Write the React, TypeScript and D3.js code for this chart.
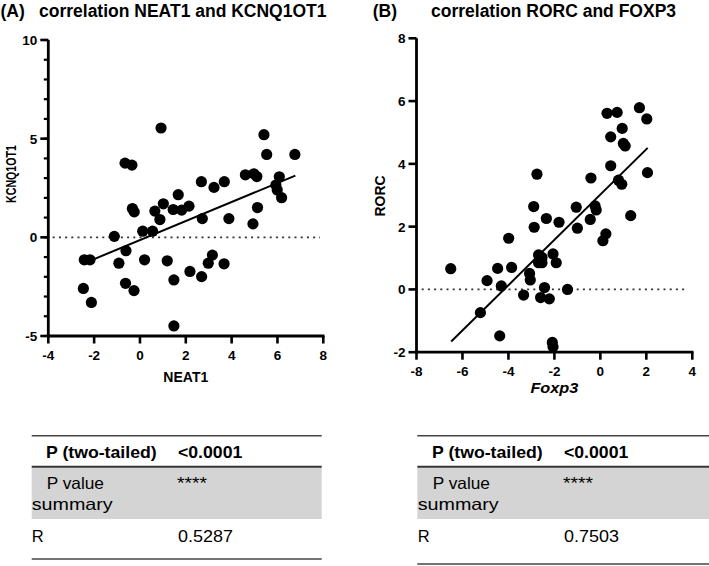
import React from 'react';
import * as d3 from 'd3';

// Panel A: NEAT1 (x) vs KCNQ1OT1 (y)
const neat1 = [0.92, -0.65, -0.35, 5.41, 5.53, 6.76, 2.68, 3.23, 3.68, 4.6, 4.97, 5.1, 6.08, 5.93, 5.99, 6.18, 1.67, -0.33, -0.25, 0.65, 1.02, 0.87, 1.45, 1.82, 2.14, 2.72, 3.88, 5.13, 4.93, -1.12, 0.12, 0.55, -2.43, -2.18, -0.61, -0.92, 0.2, 1.19, 3.16, 2.98, 3.67, 2.18, 2.69, -0.63, -0.26, 1.48, -2.47, -2.12, 1.48];
const kcnq1ot1 = [5.54, 3.76, 3.66, 5.2, 4.2, 4.2, 2.82, 2.53, 2.82, 3.17, 3.22, 3.08, 3.07, 2.65, 2.4, 2.01, 2.16, 1.46, 1.29, 1.33, 1.7, 0.9, 1.41, 1.38, 1.58, 0.95, 0.95, 1.51, 0.68, 0.05, 0.31, 0.31, -1.14, -1.14, -0.68, -1.31, -1.14, -1.19, -0.9, -1.31, -1.34, -1.73, -1.99, -2.33, -2.7, -2.16, -2.59, -3.3, -4.49];
const fitAx = [-2.45, 6.78];
const fitAy = [-1.32, 3.13];

// Panel B: Foxp3 (x) vs RORC (y)
const foxp3 = [0.29, 0.73, 1.7, 2.02, 0.95, 0.45, 1.0, 1.08, 0.45, 2.05, -2.76, -0.41, 0.79, 0.93, -2.9, -1.05, -0.23, -0.18, -0.44, 1.32, -2.35, -1.8, -2.88, -1.0, 0.24, 0.11, -3.99, -2.69, -2.54, -2.69, -2.54, -2.06, -1.92, -6.51, -4.47, -3.86, -3.08, -3.05, -4.93, -4.31, -2.43, -1.43, -3.34, -2.6, -2.22, -5.22, -4.38, -2.09, -2.06];
const rorc = [5.61, 5.64, 5.79, 5.43, 5.13, 4.86, 4.65, 4.57, 3.94, 3.72, 3.67, 3.55, 3.48, 3.35, 2.64, 2.62, 2.66, 2.53, 2.23, 2.35, 2.26, 2.14, 1.98, 1.95, 1.77, 1.55, 1.63, 1.1, 1.02, 0.85, 0.85, 1.13, 0.85, 0.66, 0.67, 0.7, 0.51, 0.3, 0.28, 0.11, 0.06, 0.0, -0.18, -0.26, -0.3, -0.74, -1.48, -1.69, -1.83];
const fitBx = [-6.49, 2.06];
const fitBy = [-1.66, 4.51];

const xTicksA = [-4, -2, 0, 2, 4, 6, 8];
const yTicksA = [-5, 0, 5, 10];
const xTicksB = [-8, -6, -4, -2, 0, 2, 4];
const yTicksB = [-2, 0, 2, 4, 6, 8];

const tableLabels = ['P (two-tailed)', 'P value', 'summary', 'R'];
const tableValuesA = ['<0.0001', '****', '0.5287'];
const tableValuesB = ['<0.0001', '****', '0.7503'];

const FONT = "'Liberation Sans', Arial, Helvetica, sans-serif";

type PanelProps = {
  xs: number[]; ys: number[]; fx: number[]; fy: number[];
  xDomain: [number, number]; yDomain: [number, number];
  xRange: [number, number]; yRange: [number, number];
  xTicks: number[]; yTicks: number[]; yMinor: number[];
  xLabel: string; xLabelItalic?: boolean; xLabelY: number; xLabelLen?: number;
  yLabel: string; yLabelX: number; yLabelY: number; yLabelLen?: number; yLabelSize: number;
  zeroRange: [number, number];
};

function Panel(p: PanelProps) {
  const x = d3.scaleLinear().domain(p.xDomain).range(p.xRange);
  const y = d3.scaleLinear().domain(p.yDomain).range(p.yRange);
  const x0 = p.xRange[0];
  const yb = p.yRange[0];
  const line = d3.line<number>().x((d) => x(p.fx[d])).y((d) => y(p.fy[d]));
  return (
    <g fontFamily={FONT}>
      <line x1={p.zeroRange[0]} x2={p.zeroRange[1]} y1={y(0)} y2={y(0)} stroke="#333" strokeWidth={1.8} strokeDasharray="2 4.2" />
      {p.xs.map((v, i) => (
        <circle key={i} cx={x(v)} cy={y(p.ys[i])} r={5.6} fill="#000" />
      ))}
      <path d={line([0, 1]) || ''} stroke="#000" strokeWidth={2} fill="none" />
      <line x1={x0} x2={x0} y1={p.yRange[1]} y2={yb + 1.3} stroke="#000" strokeWidth={2.8} />
      <line x1={x0 - 1.3} x2={p.xRange[1] + 1.2} y1={yb} y2={yb} stroke="#000" strokeWidth={2.8} />
      {p.xTicks.map((t) => (
        <g key={'xt' + t}>
          <line x1={x(t)} x2={x(t)} y1={yb} y2={yb + 7.5} stroke="#000" strokeWidth={2.6} />
          <text x={x(t)} y={yb + 24} textAnchor="middle" fontSize={13.5} fontWeight="bold">{String(t)}</text>
        </g>
      ))}
      {p.yMinor.map((t) => (
        <line key={'ym' + t} x1={x0 - 4.5} x2={x0} y1={y(t)} y2={y(t)} stroke="#000" strokeWidth={2.2} />
      ))}
      {p.yTicks.map((t) => (
        <g key={'yt' + t}>
          <line x1={x0 - 8} x2={x0} y1={y(t)} y2={y(t)} stroke="#000" strokeWidth={2.6} />
          <text x={x0 - 11} y={y(t)} dy="0.36em" textAnchor="end" fontSize={13.5} fontWeight="bold">{String(t)}</text>
        </g>
      ))}
      <text x={(p.xRange[0] + p.xRange[1]) / 2} y={p.xLabelY} textAnchor="middle" fontSize={14} fontWeight="bold"
        fontStyle={p.xLabelItalic ? 'italic' : 'normal'}
        {...(p.xLabelLen ? { textLength: p.xLabelLen, lengthAdjust: 'spacingAndGlyphs' } : {})}>{p.xLabel}</text>
      <text transform={`translate(${p.yLabelX},${p.yLabelY}) rotate(-90)`} textAnchor="middle" fontSize={p.yLabelSize} fontWeight="bold"
        {...(p.yLabelLen ? { textLength: p.yLabelLen, lengthAdjust: 'spacingAndGlyphs' } : {})}>{p.yLabel}</text>
    </g>
  );
}

type TableProps = { dx: number; left: number; right: number; bottom: number; values: string[] };

function StatTable({ dx, left, right, bottom, values }: TableProps) {
  const adj = { lengthAdjust: 'spacingAndGlyphs' as const };
  return (
    <g fontFamily={FONT} fontSize={16.5} fill="#000">
      <rect x={left} y={467.5} width={right - left} height={51.5} fill="#d4d4d4" />
      <line x1={left} x2={right} y1={435.7} y2={435.7} stroke="#444" strokeWidth={1.5} />
      <line x1={left} x2={right} y1={466.7} y2={466.7} stroke="#333" strokeWidth={2} />
      <line x1={left} x2={right} y1={bottom} y2={bottom} stroke="#444" strokeWidth={1.5} />
      <text x={46 + dx} y={458} fontWeight="bold" textLength={110.7} {...adj}>{tableLabels[0]}</text>
      <text x={178 + dx} y={458} fontWeight="bold" textLength={64.3} {...adj}>{values[0]}</text>
      <text x={46.7 + dx} y={489} textLength={57.3} {...adj}>{tableLabels[1]}</text>
      <text x={31.7 + dx} y={510} textLength={81} {...adj}>{tableLabels[2]}</text>
      <text x={177 + dx} y={489} textLength={30} {...adj}>{values[1]}</text>
      <text x={31.7 + dx} y={541.7}>{tableLabels[3]}</text>
      <text x={178 + dx} y={541.7} textLength={55} {...adj}>{values[2]}</text>
    </g>
  );
}

export default function App() {
  return (
    <svg width={709} height={566} viewBox="0 0 709 566" style={{ position: 'absolute', left: 0, top: 0, background: '#fff' }}>
      <rect x={0} y={0} width={709} height={566} fill="#fff" />
      <g fontFamily={FONT} fontWeight="bold" fontSize={17.5}>
        <text x={0.5} y={16.5}>(A)</text>
        <text x={39} y={16.5}>correlation NEAT1 and KCNQ1OT1</text>
        <text x={372.7} y={16.5}>(B)</text>
        <text x={431} y={16.5}>correlation RORC and FOXP3</text>
      </g>
      <Panel xs={neat1} ys={kcnq1ot1} fx={fitAx} fy={fitAy}
        xDomain={[-4, 8]} yDomain={[-5, 10]} xRange={[48.3, 323.3]} yRange={[336, 40]}
        xTicks={xTicksA} yTicks={yTicksA} yMinor={d3.range(-5, 11)}
        xLabel="NEAT1" xLabelY={381.7}
        yLabel="KCNQ1OT1" yLabelX={15.5} yLabelY={174} yLabelLen={58} yLabelSize={14}
        zeroRange={[52.7, 320]} />
      <Panel xs={foxp3} ys={rorc} fx={fitBx} fy={fitBy}
        xDomain={[-8, 4]} yDomain={[-2, 8]} xRange={[416.5, 692.3]} yRange={[352.2, 38.3]}
        xTicks={xTicksB} yTicks={yTicksB} yMinor={[]}
        xLabel="Foxp3" xLabelItalic xLabelY={392.5} xLabelLen={48}
        yLabel="RORC" yLabelX={385} yLabelY={196} yLabelSize={14}
        zeroRange={[421.7, 688.3]} />
      <StatTable dx={0} left={31.7} right={321.7} bottom={559} values={tableValuesA} />
      <StatTable dx={386} left={417.3} right={709} bottom={564} values={tableValuesB} />
    </svg>
  );
}
